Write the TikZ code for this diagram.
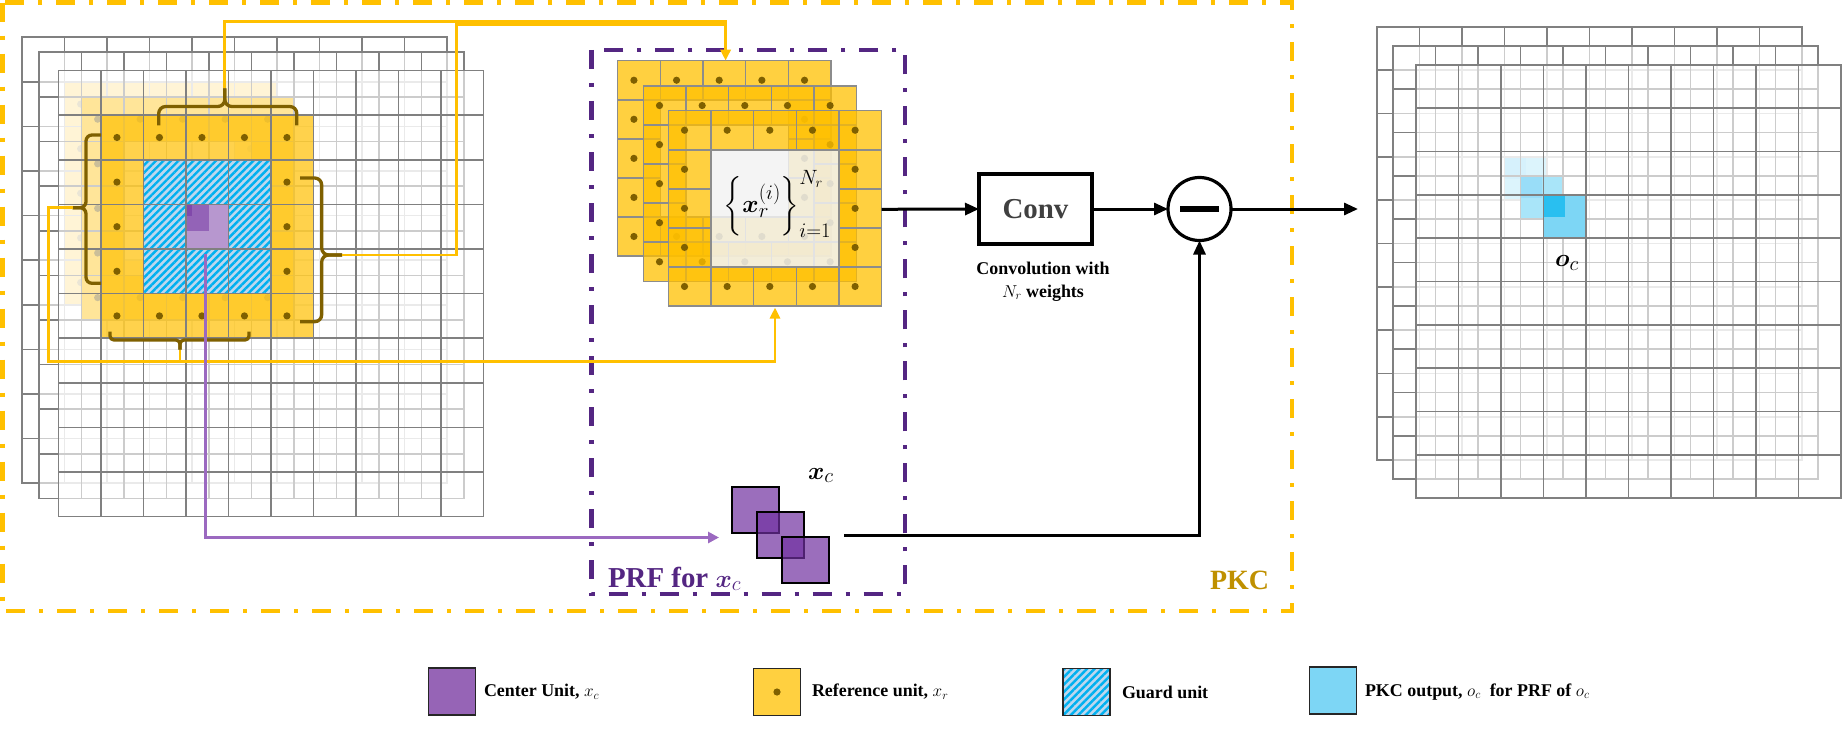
\documentclass[tikz,border=0pt]{standalone}
\usepackage{fontspec}
\setmainfont{Liberation Serif}
\usepackage{amsmath}
\usepackage{bm}
\usetikzlibrary{arrows.meta,patterns.meta}
\definecolor{pkcY}{RGB}{255,192,0}
\definecolor{prfP}{RGB}{84,38,130}
\definecolor{gridG}{RGB}{128,128,128}
\definecolor{prfG}{RGB}{140,140,140}
\definecolor{brn}{RGB}{127,96,0}
\definecolor{ylw}{RGB}{255,192,0}
\definecolor{pur}{RGB}{112,48,160}
\definecolor{purln}{RGB}{155,105,192}
\definecolor{purleg}{RGB}{150,100,182}
\definecolor{guardbg}{RGB}{189,215,238}
\definecolor{guardln}{RGB}{0,176,240}
\definecolor{bluedk}{RGB}{41,191,240}
\definecolor{bluelt}{RGB}{125,214,245}
\definecolor{bluedp}{RGB}{0,170,238}
\definecolor{pkcT}{RGB}{191,144,0}
\definecolor{convT}{RGB}{64,64,64}
\definecolor{prfinner}{RGB}{242,242,242}
\definecolor{legY}{RGB}{255,208,64}
\tikzset{
  gridline/.style={draw=gridG, line width=1.6bp},
  prfline/.style={draw=prfG, line width=1.5bp},
  bracestyle/.style={draw=brn, line width=3.3bp},
  yconn/.style={draw=pkcY, line width=2.8bp},
  ytip/.style={-{Triangle[length=11bp,width=10bp]}},
  pconn/.style={draw=purln, line width=2.8bp, -{Triangle[length=11bp,width=11bp]}},
  bconn/.style={draw=black, line width=3bp, -{Triangle[length=14bp,width=12bp]}},
  guardpat/.style={pattern={Lines[angle=45,distance=5.3bp,line width=2.4bp]}, pattern color=guardln},
  xcsq/.style={draw=black, line width=2.2bp, fill=pur, fill opacity=0.7, minimum width=47bp, minimum height=46bp},
  legsq/.style={draw=black!85, line width=1.6bp, minimum width=47bp, minimum height=47bp},
  lbl/.style={font=\fontsize{18}{21}\selectfont\bfseries},
}
\newcommand{\LayerWash}[4]{\fill[white,fill opacity=0.6] (#1,#2) rectangle ({#1+10*#3},{#2+10*#4});}
\newcommand{\LayerGrid}[4]{%
  \foreach \kk in {1,...,9}{%
    \draw[gridline] ({#1+\kk*#3},#2) -- ({#1+\kk*#3},{#2+10*#4});
    \draw[gridline] (#1,{#2+\kk*#4}) -- ({#1+10*#3},{#2+\kk*#4});
  }
  \draw[gridline] (#1,#2) rectangle ({#1+10*#3},{#2+10*#4});
}
\newcommand{\RingDots}[6]{%
  \foreach \cc in {0,...,4}{%
    \foreach \rr in {0,...,4}{%
      \pgfmathtruncatemacro\onring{(\cc==0)||(\cc==4)||(\rr==0)||(\rr==4)}%
      \ifnum\onring=1
        \fill[brn] ({#1+(#5+\cc+0.38)*#3},{#2+(#6+\rr+0.5)*#4}) circle (3.6bp);
      \fi
    }
  }
}
\newcommand{\LeftRing}[5]{%
  \fill[ylw,fill opacity=#5,even odd rule] ({#1+#3},{#2+#4}) rectangle ({#1+6*#3},{#2+6*#4}) ({#1+2*#3},{#2+2*#4}) rectangle ({#1+5*#3},{#2+5*#4});
  \RingDots{#1}{#2}{#3}{#4}{1}{1}
}
\newcommand{\PrfBlock}[5]{%
  \fill[ylw,fill opacity=0.75,even odd rule] (#1,#2) rectangle ({#1+5*#3},{#2+5*#4}) ({#1+#3},{#2+#4}) rectangle ({#1+4*#3},{#2+4*#4});
  \ifnum#5=1 \fill[prfinner,fill opacity=0.85] ({#1+#3},{#2+#4}) rectangle ({#1+4*#3},{#2+4*#4}); \fi
  \RingDots{#1}{#2}{#3}{#4}{0}{0}
  \foreach \cc in {0,...,4}{%
    \foreach \rr in {0,...,4}{%
      \pgfmathtruncatemacro\onring{(\cc==0)||(\cc==4)||(\rr==0)||(\rr==4)}%
      \ifnum\onring=1
        \draw[prfline] ({#1+\cc*#3},{#2+\rr*#4}) rectangle ++(#3,#4);
      \fi
    }
  }
}
\newcommand{\BlueCell}[6]{%
  \fill[#6] ({#1+3*#3},{#2+3*#4}) rectangle ({#1+4*#3},{#2+4*#4});
  \fill[#5] ({#1+3*#3},{#2+3*#4}) rectangle ({#1+3.5*#3},{#2+3.5*#4});
}
\begin{document}
\begin{tikzpicture}[x=1bp,y=-1bp,every node/.style={inner sep=0pt,outer sep=0pt}]
\useasboundingbox (0,0) rectangle (1844,729);
\def\Lw{42.5}\def\Lh{44.6}
% ---- left input grid: back, middle, front layers
\LeftRing{22}{37.2}{\Lw}{\Lh}{1}
\LayerGrid{22}{37.2}{\Lw}{\Lh}
\LayerWash{39}{52.3}{\Lw}{\Lh}
\LeftRing{39}{52.3}{\Lw}{\Lh}{1}
\LayerGrid{39}{52.3}{\Lw}{\Lh}
\LayerWash{58.3}{70.6}{\Lw}{\Lh}
\LeftRing{58.3}{70.6}{\Lw}{\Lh}{0.7}
\fill[guardbg,even odd rule] ({58.3+2*\Lw},{70.6+2*\Lh}) rectangle ({58.3+5*\Lw},{70.6+5*\Lh}) ({58.3+3*\Lw},{70.6+3*\Lh}) rectangle ({58.3+4*\Lw},{70.6+4*\Lh});
\fill[guardpat,even odd rule] ({58.3+2*\Lw},{70.6+2*\Lh}) rectangle ({58.3+5*\Lw},{70.6+5*\Lh}) ({58.3+3*\Lw},{70.6+3*\Lh}) rectangle ({58.3+4*\Lw},{70.6+4*\Lh});
\begin{scope}
  \clip ({58.3+3*\Lw},{70.6+3*\Lh}) rectangle ++(\Lw,\Lh);
  \fill[white] ({58.3+3*\Lw},{70.6+3*\Lh}) rectangle ++(\Lw,\Lh);
  \fill[pur,fill opacity=0.5] ({22+3*\Lw},{37.2+3*\Lh}) rectangle ++(\Lw,\Lh);
  \fill[pur,fill opacity=0.5] ({39+3*\Lw},{52.3+3*\Lh}) rectangle ++(\Lw,\Lh);
  \fill[pur,fill opacity=0.5] ({58.3+3*\Lw},{70.6+3*\Lh}) rectangle ++(\Lw,\Lh);
\end{scope}
\LayerGrid{58.3}{70.6}{\Lw}{\Lh}
% ---- PRF stack
\PrfBlock{617.7}{60.7}{42.65}{39.06}{0}
\PrfBlock{643.3}{86}{42.65}{39.06}{0}
\PrfBlock{668.3}{110.7}{42.65}{39.06}{1}
\node (prflbl) at (777.5,204) {\fontsize{28}{31}\selectfont$\bigg\{\bm{x}_r^{(i)}\bigg\}_{i=1}^{N_r}$};
% ---- right output grid
\def\Rw{42.5}\def\Rh{43.3}
\BlueCell{1377}{27}{\Rw}{\Rh}{bluedp}{bluedk}
\LayerGrid{1377}{27}{\Rw}{\Rh}
\LayerWash{1393}{46}{\Rw}{\Rh}
\BlueCell{1393}{46}{\Rw}{\Rh}{bluedp}{bluedk}
\LayerGrid{1393}{46}{\Rw}{\Rh}
\LayerWash{1416}{65}{\Rw}{\Rh}
\BlueCell{1416}{65}{\Rw}{\Rh}{bluedk}{bluelt}
\LayerGrid{1416}{65}{\Rw}{\Rh}
\node[anchor=base west] (oclbl) at (1555,266.5) {\fontsize{28}{32}\selectfont$\bm{o}_c$};
% ---- frames
\draw[pkcY, line width=4.5bp, dash pattern=on 19bp off 14bp on 4bp off 14bp] (2.5,2.7) rectangle (1292,611);
\draw[prfP, line width=4.5bp, dash pattern=on 19bp off 14bp on 4bp off 14bp] (591.7,50) rectangle (905,594);
\node[anchor=base west, text=prfP] (prftxt) at (608,587) {\fontsize{29}{32}\selectfont\bfseries PRF for $\bm{x}_c$};
\node[anchor=base west, text=pkcT] (pkctxt) at (1210,589.5) {\fontsize{28}{32}\selectfont\bfseries PKC};
% ---- braces
\draw[bracestyle, rounded corners=7bp] (158.7,125.5) -- (158.7,106.5) -- (224.8,106.5) -- (224.8,88.5);
\draw[bracestyle, rounded corners=7bp] (296.8,125.5) -- (296.8,106.5) -- (224.8,106.5) -- (224.8,88.5);
\draw[bracestyle, rounded corners=4bp] (110,331.5) -- (110,340) -- (180,340) -- (180,349.5);
\draw[bracestyle, rounded corners=4bp] (249,331.5) -- (249,340) -- (180,340) -- (180,349.5);
\draw[bracestyle, rounded corners=6bp] (101,135) -- (86,135) -- (86,207.7) -- (72.7,207.7);
\draw[bracestyle, rounded corners=6bp] (101,283.3) -- (86,283.3) -- (86,207.7) -- (72.7,207.7);
\draw[bracestyle, rounded corners=7bp] (300,178) -- (321.7,178) -- (321.7,255) -- (342,255);
\draw[bracestyle, rounded corners=7bp] (300,321.7) -- (321.7,321.7) -- (321.7,255) -- (342,255);
% ---- coordinates
\coordinate (topTip) at (224.8,88.5);
\coordinate (leftTip) at (72.7,207.7);
\coordinate (rightTip) at (342,255);
\coordinate (botTip) at (180,349.5);
\coordinate (prfTop) at (725.6,60.7);
\coordinate (prfBot) at (775,307.5);
\coordinate (yA) at (224.8,21.7);
\coordinate (yB) at (456.7,24.5);
\coordinate (yBend) at (724,24.5);
\coordinate (yC) at (48.3,207.7);
\coordinate (yD) at (180,361.5);
\coordinate (cStart) at (205.7,254);
\coordinate (xcIn) at (719,537.5);
\coordinate (xcOut) at (844,535.7);
\coordinate (prfOut) at (881.5,209.3);
\coordinate (outEnd) at (1358,209);
% ---- center unit squares
\node[xcsq] (xc1) at (755.3,510.3) {};
\node[xcsq] (xc2) at (780.3,535.3) {};
\node[xcsq] (xc3) at (805.3,560.3) {};
\node[anchor=base west] (xclbl) at (808,479) {\fontsize{28}{30}\selectfont$\bm{x}_c$};
% ---- conv and minus
\node[draw, line width=3.5bp, minimum width=113bp, minimum height=70bp, text=convT, font=\fontsize{29}{32}\selectfont\bfseries] (conv) at (1035.5,209) {Conv};
\node[lbl, anchor=base] (convl1) at (1043,274) {Convolution with};
\node[lbl, anchor=base] (convl2) at (1043,297) {$N_r$ weights};
\node[circle, draw, line width=3.2bp, minimum size=63bp] (minus) at (1199.5,209) {\rule{39bp}{5.5bp}};
% ---- connectors
\draw[yconn, ytip] (topTip) -- (yA) -| (prfTop);
\draw[yconn] (rightTip) -| (yB) -- (yBend);
\draw[yconn] (leftTip) -- (yC) |- (yD);
\draw[yconn, ytip] (botTip) -- (yD) -| (prfBot);
\draw[pconn] (cStart) |- (xcIn);
\draw[bconn] (prfOut) -- (conv.west);
\draw[bconn] (conv.east) -- (minus.west);
\draw[bconn] (minus.east) -- (outEnd);
\draw[bconn] (xcOut) -| (minus.south);
% ---- legend
\node[legsq, fill=purleg] (lgc) at (452,691.5) {};
\node[lbl, anchor=west] (lgct) at (484,692) {Center Unit, $x_c$};
\node[legsq, fill=legY] (lgr) at (777,692) {};
\fill[brn] (lgr.center) circle (3.6bp);
\node[lbl, anchor=west] (lgrt) at (812,692) {Reference unit, $x_r$};
\node[legsq, preaction={fill=guardbg}, guardpat] (lgg) at (1086.5,692) {};
\node[lbl, anchor=west] (lggt) at (1122,692) {Guard unit};
\node[legsq, fill=bluelt] (lgo) at (1333,690.5) {};
\node[lbl, anchor=west] (lgot) at (1365,692) {PKC output, $o_c$\ \ for PRF of $o_c$};
\end{tikzpicture}
\end{document}
